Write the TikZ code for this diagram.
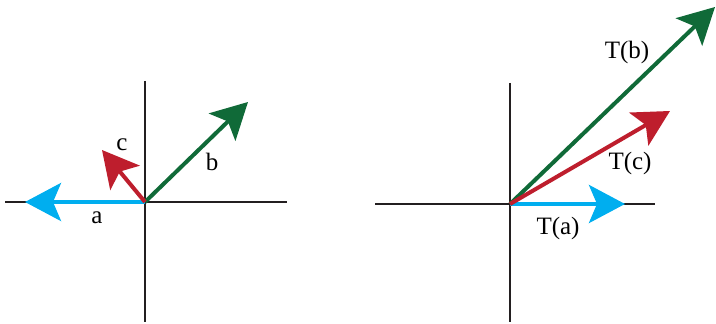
\documentclass[tikz,border=0pt]{standalone}
\usepackage{fontspec}
\setmainfont{Liberation Serif}
\usepackage{xcolor}
\usetikzlibrary{arrows.meta,positioning}

\definecolor{vecA}{RGB}{0,174,239}
\definecolor{vecB}{RGB}{16,106,56}
\definecolor{vecC}{RGB}{190,30,45}
\definecolor{axisgray}{RGB}{35,31,32}

\begin{document}
\begin{tikzpicture}[
        x=0.5pt, y=-0.5pt,
        % Styles
        axis/.style={
            draw=axisgray,
            line width=1pt
        },
        vector/.style={
            -{Stealth[length=18pt, width=19pt, inset=4pt]},
            line width=2pt
        },
        veclabel/.style={
            font=\fontsize{12.5}{15}\selectfont,
            inner sep=0pt
        }
    ]
    \useasboundingbox (0,0) rectangle (716,324);

    % Left plane: vectors a, b, c
    \coordinate (O1) at (145,202);
    \coordinate (x1l) at (5,202);
    \coordinate (x1r) at (287,202);
    \coordinate (y1t) at (145,81);
    \coordinate (y1b) at (145,322);
    \coordinate (aTip) at (25,202);
    \coordinate (bTip) at (248,102);
    \coordinate (cTip) at (102,150);

    \draw[axis] (x1l) -- (x1r);
    \draw[axis] (y1t) -- (y1b);

    \draw[vector, color=vecA] (O1) -- (aTip);
    \draw[vector, color=vecB] (O1) -- (bTip);
    \draw[vector, color=vecC] (O1) -- (cTip);

    \node[veclabel] (aLab) at (97,218) {a};
    \node[veclabel] (bLab) at (212,162) {b};
    \node[veclabel] (cLab) at (122,145) {c};

    % Right plane: images T(a), T(b), T(c)
    \coordinate (O2) at (510,204);
    \coordinate (x2l) at (375,204);
    \coordinate (x2r) at (655,204);
    \coordinate (y2t) at (510,83);
    \coordinate (y2b) at (510,322);
    \coordinate (TaTip) at (625,204);
    \coordinate (TbTip) at (715,7);
    \coordinate (TcTip) at (670,111);

    \draw[axis] (x2l) -- (x2r);
    \draw[axis] (y2t) -- (y2b);

    \draw[vector, color=vecA] (O2) -- (TaTip);
    \draw[vector, color=vecB] (O2) -- (TbTip);
    \draw[vector, color=vecC] (O2) -- (TcTip);

    \node[veclabel] (TaLab) at (558,228) {T(a)};
    \node[veclabel] (TbLab) at (627,52) {T(b)};
    \node[veclabel] (TcLab) at (630,163) {T(c)};

\end{tikzpicture}
\end{document}
